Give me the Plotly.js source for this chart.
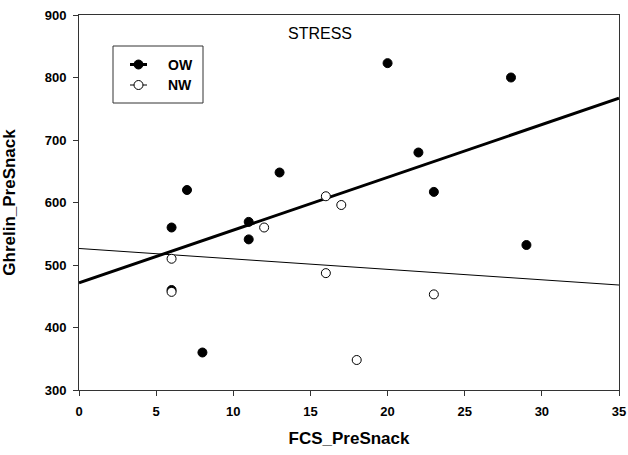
<!DOCTYPE html>
<html>
<head>
<meta charset="utf-8">
<script src="https://cdn.plot.ly/plotly-3.0.1.min.js"></script>
<style>html,body{margin:0;padding:0;background:#fff;}#chart{width:628px;height:455px;}</style>
</head>
<body>
<div id="chart"></div>
<script>
// Data
const owX = [6, 6, 7, 8, 11, 11, 13, 20, 22, 23, 28, 29];
const owY = [560, 460, 620, 360, 569, 541, 648, 823, 680, 617, 800, 532];
const nwX = [6, 6, 12, 16, 17, 16, 18, 23];
const nwY = [510, 457, 560, 610, 596, 487, 348, 453];
const xRange = [0, 35];
const yRange = [300, 900];
const seriesNames = ['OW', 'NW'];
const panelLabel = 'STRESS';
const xTitle = 'FCS_PreSnack';
const yTitle = 'Ghrelin_PreSnack';

// least-squares fit line from the data, drawn across the x range
function fit(xs, ys) {
  const n = xs.length;
  const mx = xs.reduce((a, b) => a + b, 0) / n;
  const my = ys.reduce((a, b) => a + b, 0) / n;
  let sxy = 0, sxx = 0;
  for (let i = 0; i < n; i++) { sxy += (xs[i] - mx) * (ys[i] - my); sxx += (xs[i] - mx) ** 2; }
  const b = sxy / sxx, a = my - b * mx;
  return { x: xRange.slice(), y: xRange.map(v => a + b * v) };
}
const owFit = fit(owX, owY);
const nwFit = fit(nwX, nwY);

const FONT = 'Liberation Sans, Arial, sans-serif';
const M = { l: 79, r: 9, t: 15, b: 65 };
const W = 628, H = 455;
const pw = W - M.l - M.r, ph = H - M.t - M.b;
// page pixel -> paper fraction (for legend box placement)
const px = v => (v - M.l) / pw;
const py = v => 1 - (v - M.t) / ph;

const traces = [
  { x: owFit.x, y: owFit.y, mode: 'lines', line: { color: '#000', width: 3 }, hoverinfo: 'skip' },
  { x: nwFit.x, y: nwFit.y, mode: 'lines', line: { color: '#000', width: 1 }, hoverinfo: 'skip' },
  { x: owX, y: owY, name: seriesNames[0], mode: 'markers', marker: { color: '#000', size: 9, line: { color: '#000', width: 1 } } },
  { x: nwX, y: nwY, name: seriesNames[1], mode: 'markers', marker: { color: '#fff', size: 9, line: { color: '#000', width: 1 } } }
];

// custom legend (box, sample line + marker, label)
const legendRows = [
  { name: seriesNames[0], y: 64.5, lw: 3, fill: '#000' },
  { name: seriesNames[1], y: 85, lw: 1, fill: '#fff' }
];
const shapes = [
  { type: 'rect', xref: 'paper', yref: 'paper', x0: px(113), x1: px(203), y0: py(46), y1: py(103),
    line: { color: '#333', width: 1 }, fillcolor: 'rgba(0,0,0,0)' }
];
const annotations = [
  { text: panelLabel, xref: 'paper', yref: 'paper', x: px(320), y: py(34),
    xanchor: 'center', yanchor: 'middle', showarrow: false, font: { family: FONT, size: 16, color: '#000' } }
];
legendRows.forEach(r => {
  shapes.push({ type: 'line', xref: 'paper', yref: 'paper', x0: px(130), x1: px(147), y0: py(r.y), y1: py(r.y),
    line: { color: '#000', width: r.lw } });
  shapes.push({ type: 'circle', xref: 'paper', yref: 'paper', xsizemode: 'pixel', ysizemode: 'pixel',
    xanchor: px(138.5), yanchor: py(r.y), x0: -4.5, x1: 4.5, y0: -4.5, y1: 4.5,
    fillcolor: r.fill, line: { color: '#000', width: 1 } });
  annotations.push({ text: r.name, xref: 'paper', yref: 'paper', x: px(166), y: py(r.y),
    xanchor: 'left', yanchor: 'middle', showarrow: false,
    font: { family: FONT, size: 14, weight: 'bold', color: '#000' } });
});

const layout = {
  width: W, height: H,
  margin: M,
  paper_bgcolor: '#fff', plot_bgcolor: '#fff',
  font: { family: FONT, color: '#000' },
  showlegend: false,
  xaxis: {
    range: xRange, dtick: 5, tick0: 0,
    showgrid: false, zeroline: false,
    showline: true, linecolor: '#333', linewidth: 1, mirror: true,
    ticks: 'outside', ticklen: 5, tickcolor: '#333', ticklabelstandoff: 4,
    tickfont: { family: FONT, size: 13, weight: 'bold' },
    title: { text: xTitle, font: { family: FONT, size: 17, weight: 'bold' }, standoff: 14 }
  },
  yaxis: {
    range: yRange, dtick: 100, tick0: 300,
    showgrid: false, zeroline: false,
    showline: true, linecolor: '#333', linewidth: 1, mirror: true,
    ticks: 'outside', ticklen: 5, tickcolor: '#333', ticklabelstandoff: 4,
    tickfont: { family: FONT, size: 13, weight: 'bold' },
    title: { text: yTitle, font: { family: FONT, size: 17, weight: 'bold' }, standoff: 25 }
  },
  shapes: shapes,
  annotations: annotations
};

Plotly.newPlot('chart', traces, layout, { displayModeBar: false, staticPlot: true });
</script>
</body>
</html>
